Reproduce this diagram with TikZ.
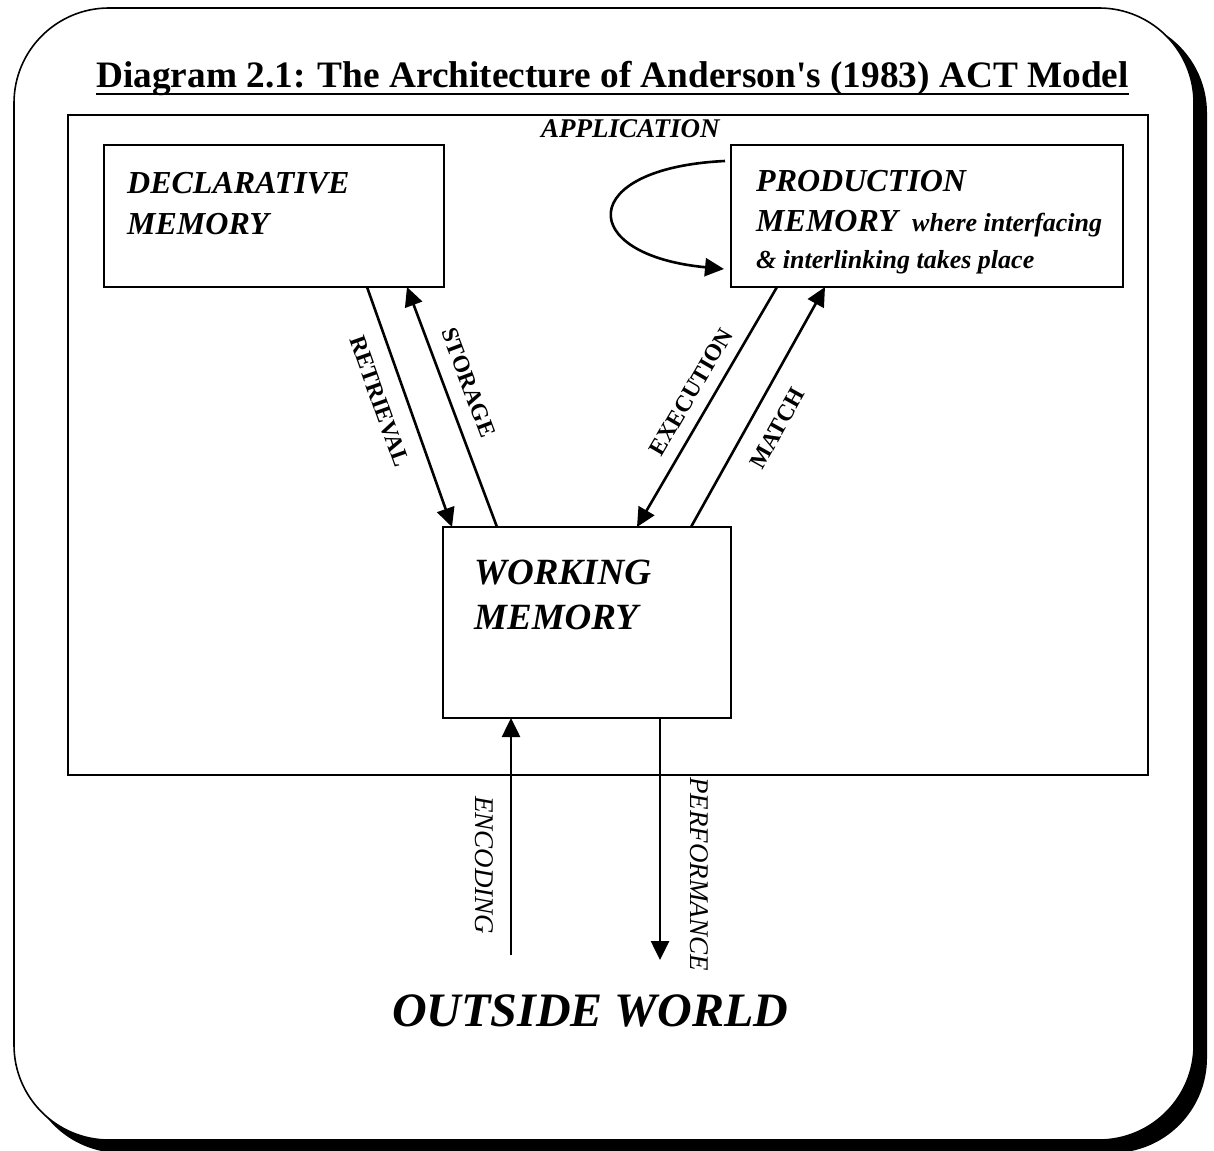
\documentclass[tikz,border=0pt]{standalone}
\usepackage{fontspec}
\setmainfont{Liberation Serif}
% same family without the TeX input mapping, so the apostrophe stays straight
\newfontfamily\headfont{Liberation Serif}
\usetikzlibrary{arrows.meta}
\begin{document}
\begin{tikzpicture}[x=1pt,y=-1pt,
  box/.style={draw, line width=2.6pt, inner sep=0pt, outer sep=0pt},
  boxtext/.style={anchor=base west, inner sep=0pt, font=\fontsize{32}{38}\selectfont\bfseries\itshape},
  smalltext/.style={anchor=base west, inner sep=0pt, font=\fontsize{26}{30}\selectfont\bfseries\itshape},
  arr/.style={line width=2.6pt, -{Triangle[length=19pt,width=18pt]}},
  lbl/.style={inner sep=0pt, font=\fontsize{23.5}{28}\selectfont\bfseries},
  vlbl/.style={inner sep=0pt, rotate=-90, font=\fontsize{27}{32}\selectfont\itshape}]
\useasboundingbox (0,0) rectangle (1214,1150);

% card with drop shadow
\fill[black, rounded corners=95pt] (26,18) rectangle (1207,1153);
\draw[line width=1.6pt, fill=white, rounded corners=95pt] (14,8) rectangle (1194,1140);

% heading
\node[anchor=base west, inner sep=0pt, font=\headfont\fontsize{37.3}{44}\selectfont\bfseries] (title) at (96,88)
  {Diagram 2.1: The Architecture of Anderson's (1983) ACT Model};
\draw[line width=2.6pt] ([yshift=-6pt]title.base west) -- ([yshift=-6pt]title.base east);

% system boundary
\node[box, minimum width=1080pt, minimum height=660pt] (frame) at (608,445) {};

% memories
\node[box, minimum width=340pt, minimum height=142pt] (decl) at (274,216) {};
\node[box, minimum width=392pt, minimum height=142pt] (prod) at (927,216) {};
\node[box, minimum width=288pt, minimum height=191pt] (wm) at (587,622.5) {};

\node[boxtext] (declA) at (127,194) {DECLARATIVE};
\node[boxtext] (declB) at (127,235) {MEMORY};

\node[boxtext] (prodA) at (756,192) {PRODUCTION};
\node[boxtext] (prodB) at (756,232) {MEMORY};
\node[smalltext] (prodB2) at (912,232) {where interfacing};
\node[smalltext] (prodC) at (756,268) {\& interlinking takes place};

\node[boxtext, font=\fontsize{37}{44}\selectfont\bfseries\itshape] (wmA) at (474,584) {WORKING};
\node[boxtext, font=\fontsize{37}{44}\selectfont\bfseries\itshape] (wmB) at (474,629) {MEMORY};

% declarative <-> working
\draw[arr] ([xshift=263pt]decl.south west) --
  node[lbl, sloped, pos=0.44, below=17pt] (retr) {RETRIEVAL}
  ([xshift=9pt]wm.north west);
\draw[arr] ([xshift=54pt]wm.north west) --
  node[lbl, sloped, pos=0.567, above=15pt] (stor) {STORAGE}
  ([xshift=303pt]decl.south west);

% production <-> working
\draw[arr] ([xshift=46pt]prod.south west) --
  node[lbl, sloped, pos=0.482, above=12pt] (exec) {EXECUTION}
  ([xshift=194pt]wm.north west);
\draw[arr] ([xshift=248pt]wm.north west) --
  node[lbl, sloped, pos=0.465, below=18pt] (match) {MATCH}
  ([xshift=94pt]prod.south west);

% production self-loop
\draw[arr] ([shift={(-6pt,-16pt)}]prod.north west) .. controls (576,168) and (576,255) ..
  ([shift={(-7pt,-124pt)}]prod.north west);
\node[anchor=base west, inner sep=0pt, font=\fontsize{27}{32}\selectfont\bfseries\itshape] (appl) at (541,138) {APPLICATION};

% outside world
\node[anchor=base west, inner sep=0pt, font=\fontsize{48}{56}\selectfont\bfseries\itshape] (world) at (392,1026) {OUTSIDE WORLD};
\coordinate (enc) at (511,955);
\coordinate (perf) at (660,960);
\draw[arr] (enc) -- ([xshift=68pt]wm.south west);
\draw[arr] ([xshift=217pt]wm.south west) -- (perf);
\node[vlbl] (encL) at (484,865) {ENCODING};
\node[vlbl] (perfL) at (699,874) {PERFORMANCE};
\end{tikzpicture}
\end{document}
